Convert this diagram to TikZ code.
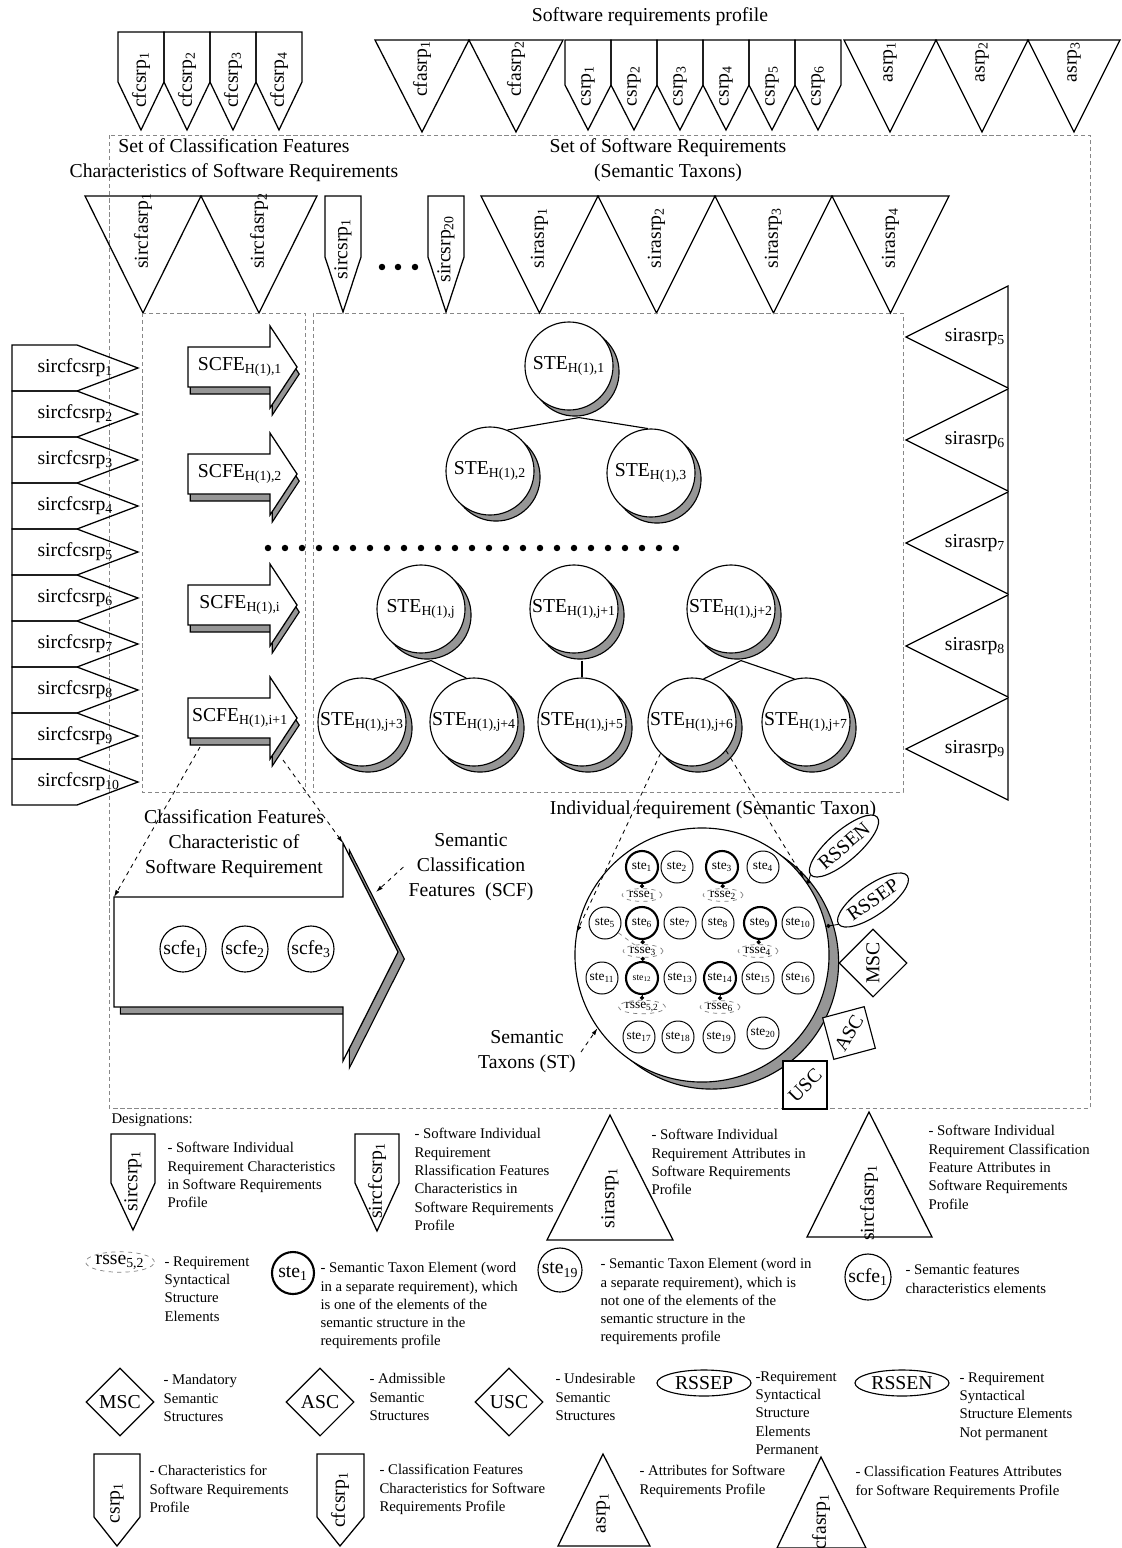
\documentclass[tikz,border=0pt]{standalone}
\usepackage{fontspec}
\setmainfont{Liberation Serif}
\usetikzlibrary{calc, positioning, arrows.meta, shapes.geometric, shadows}
\definecolor{shadegray}{RGB}{150,150,150}
\definecolor{framegray}{RGB}{135,135,135}

\tikzset{
  txtbig/.style={font=\fontsize{14}{17.8}\selectfont},
  txtsmall/.style={font=\fontsize{10.5}{13}\selectfont},
  frm/.style={draw=framegray, line width=0.6pt, dash pattern=on 3pt off 2pt},
  shp/.style={draw, line width=0.9pt},
  vlab/.style={rotate=90, inner sep=0pt},
  stebig/.style={circle, draw, fill=white, minimum size=2.2cm, inner sep=0pt,
    general shadow={shadow xshift=4.3pt, shadow yshift=-4.3pt, fill=shadegray, draw=black}},
  ste/.style={circle, draw, fill=white, minimum size=0.8cm, inner sep=0pt, line width=0.7pt,
    font=\fontsize{9.5}{11}\selectfont},
  stek/.style={ste, line width=1.5pt},
  rsse/.style={ellipse, draw=gray, dashed, line width=0.5pt, minimum width=1cm,
    minimum height=0.32cm, inner sep=0pt, font=\fontsize{9.5}{11}\selectfont},
  zoomln/.style={dashed, line width=0.6pt, -{Latex[length=5pt, width=3pt]}},
  tie/.style={line width=0.6pt, -{Circle[length=3pt]}},
  lgd/.style={txtsmall, align=left, anchor=north west, inner sep=0pt},
  sym/.style={draw, fill=white, inner sep=0pt}
}

\begin{document}
\begin{tikzpicture}[x=0.025cm, y=-0.025cm, line width=0.8pt, txtbig]
\useasboundingbox (0,0) rectangle (1122,1548);

% profile on top
\node (title) at (650,17) {Software requirements profile};
\foreach \i in {1,...,4}{
  \pgfmathsetmacro\xa{118+46*(\i-1)}
  \draw[shp] (\xa,32) -- ++(46,0) -- ++(0,50) -- ++(-23,48) -- ++(-23,-48) -- cycle;
  \node[vlab] (cfc\i) at (\xa+23,80) {cfcsrp\textsubscript{\i}};
}
\foreach \i in {1,2}{
  \pgfmathsetmacro\xa{375+94*(\i-1)}
  \draw[shp] (\xa,40) -- ++(94,0) -- ++(-47,92) -- cycle;
  \node[vlab] (cfa\i) at (\xa+47,69) {cfasrp\textsubscript{\i}};
}
\foreach \i in {1,...,6}{
  \pgfmathsetmacro\xa{565+46*(\i-1)}
  \draw[shp] (\xa,40) -- ++(46,0) -- ++(0,45) -- ++(-23,45) -- ++(-23,-45) -- cycle;
  \node[vlab] (cs\i) at (\xa+23,86) {csrp\textsubscript{\i}};
}
\foreach \i in {1,2,3}{
  \pgfmathsetmacro\xa{844+92*(\i-1)}
  \draw[shp] (\xa,40) -- ++(92,0) -- ++(-46,92) -- cycle;
  \node[vlab] (as\i) at (\xa+46,62) {asrp\textsubscript{\i}};
}

% outer set
\draw[frm] (109,135) rectangle (1090,1108);
\node[align=center] (setcf) at (234,160) {Set of Classification Features\\Characteristics of Software Requirements};
\node[align=center] (setsr) at (668,160) {Set of Software Requirements\\(Semantic Taxons)};

% second row
\foreach \i in {1,2}{
  \pgfmathsetmacro\xa{85+116*(\i-1)}
  \draw[shp] (\xa,196) -- ++(116,0) -- ++(-58,117) -- cycle;
  \node[vlab] (scfa\i) at (\xa+58,231) {sircfasrp\textsubscript{\i}};
}
\foreach \i/\xa in {1/325, 20/428}{
  \draw[shp] (\xa,196) -- ++(36,0) -- ++(0,61) -- ++(-18,55) -- ++(-18,-55) -- cycle;
  \node[vlab] (scs\i) at (\xa+18,249) {sircsrp\textsubscript{\i}};
}
\foreach \xa in {382,398,415} \fill (\xa,267) circle (2.3pt);
\foreach \i in {1,...,4}{
  \pgfmathsetmacro\xa{481+117*(\i-1)}
  \draw[shp] (\xa,196) -- ++(117,0) -- ++(-58.5,117) -- cycle;
  \node[vlab] (sa\i) at (\xa+58.5,238) {sirasrp\textsubscript{\i}};
}
\foreach \i in {5,...,9}{
  \pgfmathsetmacro\ya{286+103*(\i-5)}
  \draw[shp] (1008,\ya) -- ++(0,102) -- ++(-102,-51) -- cycle;
  \node[anchor=east, inner sep=1pt] (sa\i) at (1007,\ya+51) {sirasrp\textsubscript{\i}};
}
\foreach \i in {1,...,10}{
  \pgfmathsetmacro\ya{345+46*(\i-1)}
  \draw[shp] (12,\ya) -- ++(65,0) -- ++(61,23) -- ++(-61,23) -- ++(-65,0) -- cycle;
  \node[anchor=west, inner sep=0pt] (scfc\i) at (37,\ya+23) {sircfcsrp\textsubscript{\i}};
}

% inner sets
\draw[frm] (142,313) rectangle (305,792);
\draw[frm] (313,313) rectangle (903,792);

% feature arrows
\foreach \c/\s [count=\n] in {367/1, 474/2, 605/i, 718/i+1}{
  \draw[shp, fill=white, general shadow={shadow xshift=1.6pt, shadow yshift=-5pt, fill=shadegray, draw=black}]
    (188,\c-20) -- (270,\c-20) -- (270,\c-41) -- (297,\c) -- (270,\c+41) -- (270,\c+20) -- (188,\c+20) -- cycle;
  \node (scfe\n) at (240,\c) {SCFE\textsubscript{H(1),\s}};
}

% taxon trees
\node[stebig] (t1) at (569,366) {STE\textsubscript{H(1),1}};
\node[stebig] (t2) at (490,471) {STE\textsubscript{H(1),2}};
\node[stebig] (t3) at (651,473) {STE\textsubscript{H(1),3}};
\draw ($(t1.south)+(10,7)$) -- (t2.67);
\draw ($(t1.south)+(10,7)$) -- (t3.94);
\foreach \k in {0,...,24} \fill (268+17*\k,548) circle (2.3pt);
\node[stebig] (tj) at (421,609) {STE\textsubscript{H(1),j}};
\node[stebig] (tj1) at (574,609) {STE\textsubscript{H(1),j+1}};
\node[stebig] (tj2) at (731,609) {STE\textsubscript{H(1),j+2}};
\node[stebig] (tj3) at (362,722) {STE\textsubscript{H(1),j+3}};
\node[stebig] (tj4) at (474,722) {STE\textsubscript{H(1),j+4}};
\node[stebig] (tj5) at (582,722) {STE\textsubscript{H(1),j+5}};
\node[stebig] (tj6) at (692,722) {STE\textsubscript{H(1),j+6}};
\node[stebig] (tj7) at (806,722) {STE\textsubscript{H(1),j+7}};
\draw ($(tj.south)+(10,7)$) -- (tj3.75);
\draw ($(tj.south)+(10,7)$) -- (tj4.100);
\draw ($(tj1.south)+(8,7)$) -- (tj5.north);
\draw ($(tj2.south)+(10,7)$) -- (tj6.75);
\draw ($(tj2.south)+(10,7)$) -- (tj7.105);

% big feature arrow
\draw[shp, fill=white, general shadow={shadow xshift=4.5pt, shadow yshift=-5pt, fill=shadegray, draw=black}]
  (114,897) -- (343,897) -- (343,843) -- (398,952) -- (343,1061) -- (343,1007) -- (114,1007) -- cycle;
\coordinate (bigtl) at (114,897);
\coordinate (bighd) at (343,843);
\coordinate (bigedge) at (376,892);
\coordinate (a4sw) at (200,747);
\coordinate (a4se) at (283,760);
\draw[zoomln] (a4sw) -- (bigtl);
\draw[zoomln] (a4se) -- (bighd);
\foreach \i/\xa in {1/183, 2/245, 3/311}
  \node[circle, draw, minimum size=1.15cm, inner sep=0pt] (scfe\i) at (\xa,949) {scfe\textsubscript{\i}};
\node[align=center] (cfcs) at (234,844) {Classification Features\\Characteristic of\\Software Requirement};
\node[align=center] (scf) at (471,867) {Semantic\\Classification\\Features\enspace(SCF)};
\draw[zoomln] (scf.west) -- (bigedge);

% individual requirement
\node (indiv) at (713,810) {Individual requirement (Semantic Taxon)};
\node[circle, draw, fill=white, minimum size=6.35cm, inner sep=0pt,
  general shadow={shadow xshift=6.8pt, shadow yshift=-5pt, fill=shadegray, draw=black}] (bigc) at (702,955) {};
\draw[zoomln] (tj6.225) -- (bigc.170);
\draw[zoomln] (tj6.-40) -- (bigc.37);
\node[align=center] (stx) at (527,1052) {Semantic\\Taxons (ST)};
\draw[zoomln] (stx.east) -- (bigc.215);

\node[stek] (s1) at (642,867) {ste\textsubscript{1}};
\node[ste] (s2) at (677,867) {ste\textsubscript{2}};
\node[stek] (s3) at (722,867) {ste\textsubscript{3}};
\node[ste] (s4) at (763,867) {ste\textsubscript{4}};
\node[ste] (s5) at (605,923) {ste\textsubscript{5}};
\node[stek] (s6) at (642,923) {ste\textsubscript{6}};
\node[ste] (s7) at (680,923) {ste\textsubscript{7}};
\node[ste] (s8) at (718,923) {ste\textsubscript{8}};
\node[stek] (s9) at (760,923) {ste\textsubscript{9}};
\node[ste] (s10) at (798,923) {ste\textsubscript{10}};
\node[ste] (s11) at (602,978) {ste\textsubscript{11}};
\node[stek, font=\fontsize{7}{8}\selectfont] (s12) at (642,978) {ste\textsubscript{12}};
\node[ste] (s13) at (680,978) {ste\textsubscript{13}};
\node[stek] (s14) at (720,978) {ste\textsubscript{14}};
\node[ste] (s15) at (758,978) {ste\textsubscript{15}};
\node[ste] (s16) at (798,978) {ste\textsubscript{16}};
\node[ste] (s17) at (639,1037) {ste\textsubscript{17}};
\node[ste] (s18) at (678,1037) {ste\textsubscript{18}};
\node[ste] (s19) at (719,1037) {ste\textsubscript{19}};
\node[ste] (s20) at (763,1033) {ste\textsubscript{20}};
\node[rsse] (r1) at (642,895) {rsse\textsubscript{1}};
\node[rsse] (r2) at (723,895) {rsse\textsubscript{2}};
\node[rsse] (r3) at (643,951) {rsse\textsubscript{3}};
\node[rsse] (r4) at (758,951) {rsse\textsubscript{4}};
\node[rsse] (r52) at (642,1007) {rsse\textsubscript{5,2}};
\node[rsse] (r6) at (720,1007) {rsse\textsubscript{6}};
\draw[tie] (s1) -- (r1);
\draw[tie] (s3) -- (r2);
\draw[tie] (s6) -- (r3);
\draw[tie] (r3) -- (s12);
\draw[tie] (s9) -- (r4);
\draw[tie] (s12) -- (r52);
\draw[tie] (s14) -- (r6);
\draw[dashed, line width=0.5pt, gray] (s5) -- (r3);

\node[ellipse, draw, fill=white, rotate=41, minimum width=2.2cm, minimum height=0.75cm, inner sep=0pt] (rn) at (844,846) {RSSEN};
\node[ellipse, draw, fill=white, rotate=35, minimum width=2.1cm, minimum height=0.75cm, inner sep=0pt] (rp) at (873,900) {RSSEP};
\draw[tie] (rn.west) -- (bigc.34);
\draw[tie] (rp.west) -- (bigc.13);
\node[sym, diamond, aspect=1, minimum size=1.7cm, rotate=90] (msc) at (873,963) {MSC};
\node[sym, minimum size=1.075cm, rotate=15] (asc) at (849,1033) {\rotatebox{45}{ASC}};
\node[sym, minimum width=1.1cm, minimum height=1.2cm] (usc) at (805,1085) {\rotatebox{45}{USC}};

% designations
\node[txtsmall, anchor=west, inner sep=0pt] (desig) at (111,1120) {Designations:};
\draw[shp] (111,1134) -- (155,1134) -- (155,1183) -- (133,1230) -- (111,1183) -- cycle;
\node[vlab] (lsc) at (133,1181) {sircsrp\textsubscript{1}};
\node[lgd] (lsct) at (167,1142) {- Software Individual\\Requirement Characteristics\\in Software Requirements\\Profile};
\draw[shp] (355,1134) -- (399,1134) -- (399,1183) -- (377,1231) -- (355,1183) -- cycle;
\node[vlab] (lscf) at (377,1181) {sircfcsrp\textsubscript{1}};
\node[lgd] (lscft) at (414,1128) {- Software Individual\\Requirement\\Rlassification Features\\Characteristics in\\Software Requirements\\Profile};
\draw[shp] (610,1115) -- (673,1240) -- (547,1240) -- cycle;
\node[vlab] (lsa) at (610,1198) {sirasrp\textsubscript{1}};
\node[lgd] (lsat) at (651,1129) {- Software Individual\\Requirement Attributes in\\Software Requirements\\Profile};
\draw[shp] (869,1112) -- (932,1237) -- (807,1237) -- cycle;
\node[vlab] (lsfa) at (869,1203) {sircfasrp\textsubscript{1}};
\node[lgd] (lsfat) at (928,1125) {- Software Individual\\Requirement Classification\\Feature Attributes in\\Software Requirements\\Profile};

\node[rsse, minimum width=1.55cm, minimum height=0.45cm, font=\fontsize{14}{16}\selectfont] (lr) at (120,1262) {rsse\textsubscript{5,2}};
\node[lgd] (lrt) at (164,1256) {- Requirement\\Syntactical\\Structure\\Elements};
\node[circle, draw, line width=1.5pt, minimum size=1.05cm, inner sep=0pt] (lste) at (293,1273) {ste\textsubscript{1}};
\node[lgd] (lstet) at (320,1262) {- Semantic Taxon Element (word\\in a separate requirement), which\\is one of the elements of the\\semantic structure in the\\requirements profile};
\node[circle, draw, minimum size=1.1cm, inner sep=0pt] (lste19) at (560,1270) {ste\textsubscript{19}};
\node[lgd] (lste19t) at (600,1258) {- Semantic Taxon Element (word in\\a separate requirement), which is\\not one of the elements of the\\semantic structure in the\\requirements profile};
\node[circle, draw, minimum size=1.15cm, inner sep=0pt] (lscfe) at (868,1277) {scfe\textsubscript{1}};
\node[lgd] (lscfet) at (905,1264) {- Semantic features\\characteristics elements};

\node[sym, diamond, aspect=1, minimum size=1.7cm] (lmsc) at (120,1402) {MSC};
\node[lgd] (lmsct) at (163,1374) {- Mandatory\\Semantic\\Structures};
\node[sym, diamond, aspect=1, minimum size=1.7cm] (lasc) at (320,1402) {ASC};
\node[lgd] (lasct) at (369,1373) {- Admissible\\Semantic\\Structures};
\node[sym, diamond, aspect=1, minimum size=1.7cm] (lusc) at (509,1402) {USC};
\node[lgd] (lusct) at (555,1373) {- Undesirable\\Semantic\\Structures};
\node[ellipse, draw, minimum width=2.35cm, minimum height=0.65cm, inner sep=0pt] (lrp) at (704,1383) {RSSEP};
\node[lgd] (lrpt) at (755,1371) {-Requirement\\Syntactical\\Structure\\Elements\\Permanent};
\node[ellipse, draw, minimum width=2.35cm, minimum height=0.65cm, inner sep=0pt] (lrn) at (902,1383) {RSSEN};
\node[lgd] (lrnt) at (959,1372) {- Requirement\\Syntactical\\Structure Elements\\Not permanent};

\draw[shp] (94,1454) -- (140,1454) -- (140,1517) -- (117,1546) -- (94,1517) -- cycle;
\node[vlab] (lcs) at (117,1503) {csrp\textsubscript{1}};
\node[lgd] (lcst) at (149,1465) {- Characteristics for\\Software Requirements\\Profile};
\draw[shp] (317,1454) -- (364,1454) -- (364,1517) -- (340,1546) -- (317,1517) -- cycle;
\node[vlab] (lcfc) at (340,1500) {cfcsrp\textsubscript{1}};
\node[lgd] (lcfct) at (379,1464) {- Classification Features\\Characteristics for Software\\Requirements Profile};
\draw[shp] (603,1454) -- (650,1546) -- (558,1546) -- cycle;
\node[vlab] (las) at (603,1513) {asrp\textsubscript{1}};
\node[lgd] (last) at (639,1465) {- Attributes for Software\\Requirements Profile};
\draw[shp] (821,1457) -- (866,1548) -- (777,1548) -- cycle;
\node[vlab] (lcfa) at (821,1522) {cfasrp\textsubscript{1}};
\node[lgd] (lcfat) at (855,1466) {- Classification Features Attributes\\for Software Requirements Profile};
\end{tikzpicture}
\end{document}
